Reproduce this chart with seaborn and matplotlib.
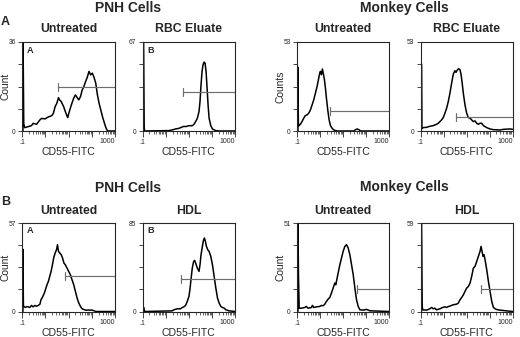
import numpy as np
import matplotlib
matplotlib.use("Agg")
import matplotlib.pyplot as plt
import seaborn as sns

sns.set_style("ticks")
plt.rcParams['font.family'] = ['Liberation Sans', 'DejaVu Sans']

W, H = 520, 337

# --- Daten: x = log10(CD55-FITC), y = Count ---
# Oben links: PNH Cells, Untreated
pnh_a_untr_x = [-0.96, -0.96, -0.945, -0.925, -0.884, -0.738, -0.593, -0.52, -0.375, -0.229, -0.156, -0.011,
                0.135, 0.28, 0.353, 0.425, 0.498, 0.571, 0.615, 0.687, 0.789, 0.862, 0.964, 1.036, 1.124,
                1.225, 1.298, 1.371, 1.444, 1.516, 1.589, 1.662, 1.735, 1.807, 1.88, 1.953, 2.025, 2.098,
                2.171, 2.244, 2.316, 2.389, 2.462, 2.535, 2.607, 2.68, 3.0]
pnh_a_untr_y = [0, 36, 26, 3, 1.35, 1.76, 2.17, 3.1, 2.7, 4.5, 5.1, 4.9,
                5.7, 6.2, 7.2, 9.9, 11.2, 13.5, 12.6, 11.9, 9.9, 7.9, 5.4, 7.9, 10.6,
                13.3, 14.6, 13.5, 12.6, 13.9, 16.6, 18.0, 20.0, 21.7, 24.1, 22.7, 23.4, 21.7,
                19.4, 14.6, 11.2, 8.5, 5.8, 3.5, 1.35, 0, 0]

# Oben: PNH Cells, RBC Eluate
pnh_a_rbc_x = [-0.96, -0.96, -0.935, -0.91, 0.135, 0.28, 0.425, 0.571, 0.716, 0.789, 0.862, 1.007, 1.153,
               1.225, 1.298, 1.371, 1.444, 1.487, 1.531, 1.575, 1.618, 1.662, 1.705, 1.749, 1.793,
               1.836, 1.88, 1.953, 2.025, 2.171, 2.316, 3.0]
pnh_a_rbc_y = [0, 67, 4, 0, 0.3, 0.8, 1.5, 2.0, 3.0, 3.5, 3.3, 4.0, 4.0,
               5.0, 7.1, 9.6, 14.6, 22.2, 34.8, 44.8, 49.9, 51.9, 51.1, 44.8, 32.2,
               19.6, 9.6, 4.0, 1.5, 0.25, 0, 0]

# Oben: Monkey Cells, Untreated
mon_a_untr_x = [-0.96, -0.96, -0.94, -0.915, -0.855, -0.782, -0.709, -0.636, -0.564, -0.491, -0.418, -0.345,
                -0.273, -0.2, -0.127, -0.055, -0.011, 0.018, 0.062, 0.105, 0.149, 0.193, 0.236, 0.28,
                0.338, 0.396, 0.455, 0.527, 0.6, 0.745, 1.473, 1.545, 1.618, 1.69, 1.764, 3.0]
mon_a_untr_y = [0, 38, 3, 3.2, 4.0, 5.6, 7.6, 9.2, 9.6, 10.6, 12.5, 15.5,
                18.5, 22.5, 26.5, 31.5, 34.5, 35.5, 33.5, 36.9, 33.9, 30.5, 25.5, 19.5,
                12.5, 6.6, 3.2, 1.6, 0.6, 0, 0, 0.8, 1.2, 0.8, 0, 0]

# Oben: Monkey Cells, RBC Eluate
mon_a_rbc_x = [-0.96, -0.96, -0.945, -0.93, -0.884, -0.738, -0.593, -0.447, -0.302, -0.229, -0.156, -0.084,
               -0.011, 0.062, 0.135, 0.207, 0.28, 0.353, 0.425, 0.498, 0.542, 0.6, 0.658, 0.716, 0.76,
               0.804, 0.862, 0.935, 1.007, 1.08, 1.153, 1.225, 1.298, 1.371, 1.444, 1.516, 1.589, 1.662,
               1.735, 1.807, 1.88, 2.025, 2.171, 2.462, 2.607, 2.898, 3.0]
mon_a_rbc_y = [0, 40, 2, 1.6, 2.0, 2.2, 2.8, 3.2, 4.0, 4.6, 5.6, 6.6,
               8.0, 10.6, 13.5, 17.5, 22.5, 28.5, 33.9, 35.9, 34.9, 36.3, 37.1, 36.5, 33.9,
               29.5, 22.5, 15.5, 10.6, 8.0, 7.6, 6.6, 5.6, 6.0, 4.6, 4.0, 4.6, 4.6,
               3.2, 2.6, 2.0, 1.2, 0.8, 0.6, 1.0, 1.2, 1.0]

# Unten: PNH Cells, Untreated
pnh_b_untr_x = [-0.96, -0.96, -0.94, -0.915, -0.855, -0.767, -0.665, -0.593, -0.52, -0.447, -0.375, -0.302,
                -0.229, -0.185, -0.127, -0.04, 0.018, 0.076, 0.135, 0.193, 0.251, 0.309, 0.367, 0.425,
                0.484, 0.527, 0.571, 0.629, 0.687, 0.745, 0.804, 0.862, 0.935, 1.007, 1.08, 1.153,
                1.225, 1.298, 1.371, 1.444, 1.516, 1.589, 1.735, 2.025, 2.171, 3.0]
pnh_b_untr_y = [0, 40, 4, 3.2, 2.6, 3.2, 2.6, 3.9, 3.0, 3.9, 3.4, 3.9,
                4.7, 7.5, 9.0, 11.8, 14.6, 17.2, 19.4, 22.6, 25.8, 30.1, 34.8, 37.6,
                39.8, 43.0, 38.7, 37.6, 36.6, 34.4, 31.2, 30.1, 28.0, 25.8, 23.7, 20.4,
                17.2, 12.9, 8.6, 5.4, 3.2, 1.7, 0.9, 0.9, 0, 0]

# Unten: PNH Cells, HDL
pnh_b_hdl_x = [-0.96, -0.94, -0.913, 0.28, 0.353, 0.498, 0.644, 0.716, 0.789, 0.862, 0.935, 1.007,
               1.051, 1.095, 1.153, 1.211, 1.255, 1.298, 1.371, 1.444, 1.487, 1.531, 1.589, 1.633,
               1.676, 1.72, 1.764, 1.822, 1.88, 1.953, 2.025, 2.098, 2.171, 2.244, 2.316, 2.389,
               2.462, 2.535, 2.607, 2.753, 3.0]
pnh_b_hdl_y = [4, 3.8, 0, 0.6, 1.6, 2.6, 2.6, 3.8, 4.5, 5.8, 9.6, 14.4,
               20.9, 30.5, 41.7, 48.1, 49.1, 46.5, 41.7, 38.5, 44.9, 54.5, 62.6, 68.0,
               70.6, 67.4, 62.6, 59.3, 57.7, 52.9, 44.9, 33.7, 22.5, 12.8, 8.0, 4.8,
               3.8, 3.2, 1.6, 0.6, 0]

# Unten: Monkey Cells, Untreated
mon_b_untr_x = [-0.96, -0.96, -0.935, -0.905, -0.811, -0.665, -0.593, -0.52, -0.375, -0.331, -0.273, -0.156,
                -0.011, 0.062, 0.135, 0.207, 0.28, 0.353, 0.425, 0.498, 0.571, 0.644, 0.687, 0.745,
                0.804, 0.862, 0.935, 1.007, 1.08, 1.153, 1.225, 1.298, 1.371, 1.444, 1.516, 1.589,
                1.662, 1.735, 1.88, 2.025, 2.171, 3.0]
mon_b_untr_y = [0, 51, 20, 1.9, 1.9, 2.3, 2.9, 1.9, 2.3, 3.5, 2.3, 2.7,
                2.9, 3.5, 3.3, 4.2, 5.8, 7.1, 8.1, 10.6, 13.5, 16.4, 15.4, 19.3,
                23.1, 26.9, 30.8, 34.7, 37.5, 38.5, 36.6, 32.7, 27.0, 21.2, 13.5, 6.7,
                2.9, 1.0, 0.8, 1.2, 0.4, 0]

# Unten: Monkey Cells, HDL
mon_b_hdl_x = [-0.96, -0.96, -0.935, -0.905, -0.738, -0.593, -0.52, -0.447, -0.375, -0.302, -0.156, -0.04,
               0.062, 0.135, 0.207, 0.28, 0.425, 0.571, 0.644, 0.716, 0.789, 0.862, 0.935, 1.007,
               1.08, 1.153, 1.225, 1.298, 1.371, 1.444, 1.516, 1.589, 1.633, 1.676, 1.72, 1.764,
               1.807, 1.88, 1.953, 2.025, 2.098, 2.171, 2.244, 2.316, 2.462, 3.0]
mon_b_hdl_y = [0, 59, 5, 1.1, 0.9, 1.8, 2.7, 1.8, 2.2, 1.1, 1.8, 2.7,
               3.1, 2.7, 3.3, 3.6, 4.5, 4.9, 5.6, 7.8, 9.3, 11.1, 13.4, 15.6,
               16.7, 18.9, 23.4, 28.9, 30.1, 33.4, 36.7, 40.1, 43.4, 40.1, 36.7, 37.8,
               34.5, 27.8, 20.0, 13.4, 6.7, 2.7, 1.8, 1.3, 0.9, 0]

# Achsenmaxima (Count) und Marker (Start log10, Hoehe)
y_max = [36, 67, 53, 53, 57, 85, 51, 59]
gate_start = [0.527, 0.76, 0.455, 0.542, 0.833, 0.658, 1.618, 1.633]
gate_level = [17.6, 29.7, 12.2, 8.6, 22.6, 31.4, 12.9, 15.1]
panel_titles = ["Untreated", "RBC Eluate", "Untreated", "RBC Eluate",
                "Untreated", "HDL", "Untreated", "HDL"]
panel_letters = ["A", "B", "", "", "A", "B", "", ""]
y_labels = ["Count", "", "Counts", "", "Count", "", "Count", ""]

curves = [(pnh_a_untr_x, pnh_a_untr_y), (pnh_a_rbc_x, pnh_a_rbc_y),
          (mon_a_untr_x, mon_a_untr_y), (mon_a_rbc_x, mon_a_rbc_y),
          (pnh_b_untr_x, pnh_b_untr_y), (pnh_b_hdl_x, pnh_b_hdl_y),
          (mon_b_untr_x, mon_b_untr_y), (mon_b_hdl_x, mon_b_hdl_y)]

# Pixel-Layout der Achsen (links, oben, rechts, unten)
col_x = [(22, 115), (142.5, 235), (297, 389), (420.5, 512.5)]
row_y = [(42, 131), (223, 311.5)]

fig = plt.figure(figsize=(W / 100, H / 100), dpi=100)


def ftext(x, y, s, **kw):
    fig.text(x / W, 1 - y / H, s, **kw)


minor = [np.log10(k) + d for d in range(-1, 3) for k in range(2, 10)]

for i, (cx, cy) in enumerate(curves):
    r, c = divmod(i, 4)
    x0, x1 = col_x[c]
    y0, y1 = row_y[r]
    ax = fig.add_axes([x0 / W, 1 - y1 / H, (x1 - x0) / W, (y1 - y0) / H])
    sns.lineplot(x=cx, y=cy, ax=ax, color="black", linewidth=1.1,
                 sort=False, estimator=None)
    # Marker (Gate)
    ax.plot([gate_start[i], 3.0], [gate_level[i]] * 2, color="#6e6e6e", lw=0.85)
    ax.plot([gate_start[i]] * 2,
            [gate_level[i] - y_max[i] * 0.045, gate_level[i] + y_max[i] * 0.045],
            color="#6e6e6e", lw=0.85)
    ax.set_xlim(-1, 3)
    ax.set_ylim(0, y_max[i])
    ax.set_xticks(range(-1, 4))
    ax.set_xticks(minor, minor=True)
    ax.set_xticklabels([])
    ax.set_yticks([y_max[i] * f for f in (0, 0.25, 0.5, 0.75, 1)])
    ax.set_yticklabels(["0", "", "", "", str(y_max[i])], fontsize=4.8)
    ax.tick_params(axis="x", which="major", length=4, width=0.6, direction="out")
    ax.tick_params(axis="x", which="minor", length=2.2, width=0.5, direction="out")
    ax.tick_params(axis="y", length=3, width=0.6, pad=1.5, direction="out")
    for s in ax.spines.values():
        s.set_visible(True)
        s.set_linewidth(0.8)
    ax.set_xlabel("")
    ax.set_ylabel("")
    ax.text(0, -0.13, ".1", transform=ax.transAxes, ha="center", va="center", fontsize=5)
    ax.text(1, -0.12, "1000", transform=ax.transAxes, ha="right", va="center", fontsize=5)
    if panel_letters[i]:
        ax.text(0.05, 0.91, panel_letters[i], transform=ax.transAxes, ha="left",
                va="center", fontsize=6.6, fontweight="bold")
    xm = (x0 + x1) / 2
    ftext(xm, y0 - 12.5, panel_titles[i], ha="center", va="center",
          fontsize=8.8, fontweight="bold")
    ftext(xm, y1 + 21, "CD55-FITC", ha="center", va="center", fontsize=7.6)
    if y_labels[i]:
        ftext(x0 - 16.5, (y0 + y1) / 2, y_labels[i], ha="center", va="center",
              rotation=90, fontsize=7.4)

# Gruppentitel
ftext(128, 8, "PNH Cells", ha="center", va="center", fontsize=10, fontweight="bold")
ftext(404, 8, "Monkey Cells", ha="center", va="center", fontsize=10, fontweight="bold")
ftext(128, 188, "PNH Cells", ha="center", va="center", fontsize=10, fontweight="bold")
ftext(404, 187, "Monkey Cells", ha="center", va="center", fontsize=10, fontweight="bold")
ftext(5.5, 22, "A", ha="center", va="center", fontsize=9, fontweight="bold")
ftext(5.5, 202, "B", ha="center", va="center", fontsize=9, fontweight="bold")

fig.savefig("out.png", dpi=100)
